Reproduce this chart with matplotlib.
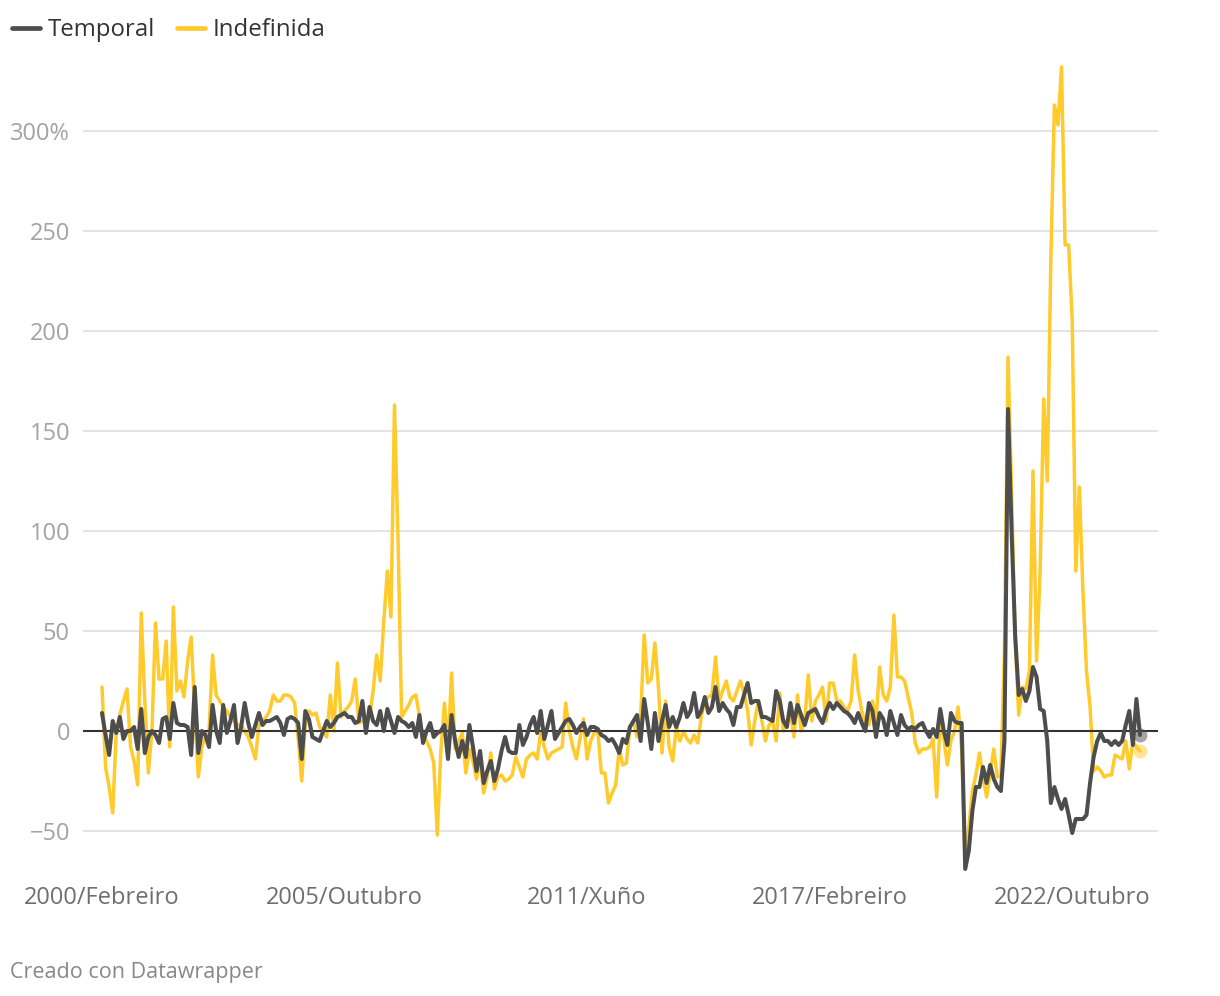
import numpy as np
import matplotlib.pyplot as plt
from matplotlib.lines import Line2D

plt.rcParams["font.family"] = ["Open Sans", "DejaVu Sans"]

# ---- data: monthly % change, Feb 2000 .. May 2024
series_names = ["Temporal", "Indefinida"]
tick_months = [0, 68, 136, 204, 272]
tick_labels = ["2000/Febreiro", "2005/Outubro", "2011/Xuño",
               "2017/Febreiro", "2022/Outubro"]
y_ticks = [-50, 0, 50, 100, 150, 200, 250, 300]
y_labels = ["\u221250", "0", "50", "100", "150", "200", "250", "300%"]

temporal = [
    9, -2, -12, 5, -1, 7, -4, 0, 0, 2, -9, 11,
    -11, -3, 0, -2, -6, 6, 7, -4, 14, 4, 3, 3,
    2, -12, 22, -11, 0, -2, -8, 13, 0, -6, 13, -1,
    5, 13, -6, 2, 14, 4, -3, 3, 9, 3, 5, 5,
    6, 7, 4, -2, 6, 7, 6, 4, -14, 10, 6, -3,
    -4, -5, 0, 5, 2, 4, 7, 8, 9, 7, 7, 4,
    5, 15, -1, 12, 5, 3, 10, 0, 11, 5, -1, 7,
    5, 4, 2, 4, -3, 8, -6, 0, 4, -3, -1, 0,
    3, -14, 8, -5, -13, -5, -13, 3, -8, -20, -10, -26,
    -20, -15, -25, -19, -10, -3, -10, -11, -11, 3, -7, -3,
    3, 7, -1, 10, -4, 3, 10, -4, -1, 2, 5, 6,
    3, -1, 2, 4, -2, 2, 2, 1, -2, -3, -5, -4,
    -7, -11, -4, -6, 2, 5, 8, -5, 16, 4, -9, 9,
    -5, 5, 13, 2, 7, 2, 7, 14, 7, 10, 19, 7,
    10, 17, 9, 12, 22, 10, 14, 11, 9, 3, 12, 12,
    18, 24, 14, 15, 15, 7, 7, 6, 5, 20, 15, 5,
    2, 14, 4, 13, 8, 3, 9, 10, 11, 7, 4, 10,
    14, 11, 14, 12, 10, 9, 7, 4, 9, 4, 0, 14,
    10, -3, 9, 6, -2, 10, 4, -2, 8, 3, 1, 2,
    1, 3, 4, 0, -3, 1, -3, 11, 0, -7, 9, 5,
    4, 4, -69, -60, -40, -28, -28, -18, -26, -17, -24, -28,
    -30, -5, 161, 100, 48, 18, 21, 15, 20, 32, 27, 11,
    10, -5, -36, -28, -34, -39, -34, -42, -51, -44, -44, -44,
    -42, -26, -13, -5, -1, -5, -5, -7, -5, -7, -5, 3,
    10, -7, 16, -2,
]

indefinida = [
    22, -18, -28, -41, 0, 8, 15, 21, -8, -15, -27, 59,
    15, -21, 0, 54, 26, 26, 45, -8, 62, 20, 25, 17,
    35, 47, 10, -23, -8, -3, 0, 38, 18, 15, 12, 10,
    7, 5, 3, 3, 0, -3, -8, -14, 3, 5, 7, 10,
    18, 15, 15, 18, 18, 17, 14, -4, -25, 4, 10, 8,
    9, 2, 0, -3, 18, 0, 34, 7, 10, 12, 15, 26,
    4, 5, 4, 7, 20, 38, 25, 55, 80, 57, 163, 95,
    7, 10, 13, 17, 18, 7, -3, -5, -9, -16, -52, -10,
    14, -9, 29, -9, -5, -1, -21, -9, -15, -24, -14, -31,
    -23, -11, -29, -23, -22, -25, -24, -22, -13, -18, -23, -14,
    -12, -11, -14, 0, -8, -14, -11, -10, -9, -8, 14, 0,
    -8, -14, -4, 6, -14, -5, -1, 0, -21, -21, -36, -31,
    -27, -9, -17, -16, 2, 5, -3, 7, 48, 24, 26, 44,
    22, -11, 15, -8, -15, 2, -5, 0, -4, -6, -2, -6,
    7, 15, 17, 18, 37, 15, 20, 25, 17, 15, 20, 25,
    19, 10, -7, 5, 15, 5, -5, 3, 5, -5, 19, 0,
    5, 9, -3, 18, 0, 5, 28, 5, 15, 18, 22, 5,
    24, 24, 15, 15, 12, 10, 15, 38, 20, 10, 4, 3,
    15, 5, 32, 18, 15, 22, 58, 27, 27, 25, 17, 9,
    -6, -11, -9, -9, -8, -4, -33, 7, -4, -17, -5, 0,
    12, -9, -64, -48, -30, -22, -11, -23, -33, -21, -9, -23,
    -22, 40, 187, 120, 45, 8, 22, 21, 30, 130, 35, 80,
    166, 125, 235, 313, 303, 332, 243, 243, 205, 80, 122, 70,
    30, 12, -20, -18, -20, -23, -22, -22, -12, -13, -14, -5,
    -19, -5, -8, -10,
]

DARK = "#4d4d4d"
YELLOW = "#ffca2c"

months = np.arange(len(temporal))

# ---- figure geometry (pixels of a 1220x996 canvas)
W, H = 1220, 996
fig = plt.figure(figsize=(W / 100, H / 100), dpi=100)
ax = fig.add_axes([83 / W, 1 - 880 / H, (1158 - 83) / W, (880 - 60) / H])

k = (1140 - 102) / (len(months) - 1)          # px per month
ax.set_xlim(-(102 - 83) / k, months[-1] + (1158 - 1140) / k)
ax.set_ylim((731 - 880) / 2, (731 - 60) / 2)

ax.plot(months, indefinida, color=YELLOW, lw=2.5, solid_joinstyle="round",
        solid_capstyle="round", zorder=3)
ax.axhline(0, color="#333333", lw=1.5, zorder=3.5)
ax.plot(months, temporal, color=DARK, lw=2.9, solid_joinstyle="round",
        solid_capstyle="round", zorder=4)
ax.plot(months[-1], indefinida[-1], "o", ms=10, color=YELLOW, alpha=0.5, mec="none", zorder=5)
ax.plot(months[-1], temporal[-1], "o", ms=10, color=DARK, alpha=0.5, mec="none", zorder=5)

ax.set_yticks(y_ticks)
ax.set_yticklabels(y_labels)
ax.set_xticks(tick_months)
ax.set_xticklabels(tick_labels)
ax.yaxis.grid(True, color="#e3e3e3", lw=1.4)
ax.set_axisbelow(True)
ax.tick_params(axis="y", length=0, pad=9.4, labelsize=17, labelcolor="#a3a3a3")
ax.tick_params(axis="x", length=0, pad=4.5, labelsize=17, labelcolor="#6f6f6f")
for s in ax.spines.values():
    s.set_visible(False)

handles = [Line2D([], [], color=DARK, lw=3.4, solid_capstyle="round"),
           Line2D([], [], color=YELLOW, lw=3.4, solid_capstyle="round")]
fig.legend(handles, series_names, loc="center left",
           bbox_to_anchor=(12 / W, 1 - 30 / H), ncol=2, frameon=False,
           fontsize=17.3, handlelength=1.15, handletextpad=0.35,
           columnspacing=0.9, borderpad=0, borderaxespad=0,
           labelcolor="#333333")

fig.text(10 / W, 1 - 972 / H, "Creado con Datawrapper", fontsize=15.5,
         color="#888888", va="center")

fig.savefig("out.png", dpi=100)
